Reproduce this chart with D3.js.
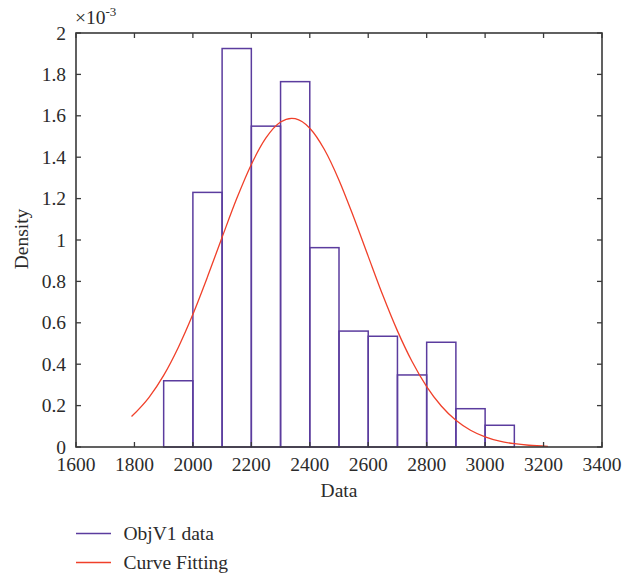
<!DOCTYPE html>
<html>
<head>
<meta charset="utf-8">
<script src="https://cdn.jsdelivr.net/npm/d3@7"></script>
<style>
  body { margin: 0; background: #fff; }
  svg text { font-family: "Liberation Serif", "DejaVu Serif", serif; fill: #2b2b2b; }
</style>
</head>
<body>
<svg id="chart" width="635" height="573"></svg>
<script>
// histogram bins (lower edge) and density values (x 10^-3)
const binStarts = [1900, 2000, 2100, 2200, 2300, 2400, 2500, 2600, 2700, 2800, 2900, 3000];
const density = [0.32, 1.23, 1.925, 1.55, 1.765, 0.963, 0.56, 0.535, 0.348, 0.506, 0.185, 0.105];
const binWidth = 100;

// fitted curve, points
const curveX = [1790, 1850, 1900, 1950, 2000, 2050, 2100, 2150, 2200, 2250, 2300, 2338, 2350, 2400, 2450, 2500, 2550, 2600, 2650, 2700, 2750, 2800, 2850, 2900, 2950, 3000, 3050, 3100, 3150, 3215];
const curveY = [0.147, 0.240, 0.346, 0.481, 0.641, 0.822, 1.013, 1.200, 1.365, 1.493, 1.570, 1.588, 1.586, 1.540, 1.437, 1.289, 1.111, 0.921, 0.733, 0.561, 0.413, 0.292, 0.198, 0.129, 0.081, 0.049, 0.028, 0.016, 0.0085, 0.0035];

const xTicks = [1600, 1800, 2000, 2200, 2400, 2600, 2800, 3000, 3200, 3400];
const yTicks = [0, 0.2, 0.4, 0.6, 0.8, 1, 1.2, 1.4, 1.6, 1.8, 2];

const svg = d3.select("#chart");
const plotL = 76, plotR = 602, plotT = 33, plotB = 447;
const fs = "19.5px";

const x = d3.scaleLinear().domain([1600, 3400]).range([plotL, plotR]);
const y = d3.scaleLinear().domain([0, 2]).range([plotB, plotT]);

const barColor = "#5b3c9e";
const lineColor = "#f0402a";
const axisColor = "#3a3a3a";

// bars
svg.append("g")
  .selectAll("rect")
  .data(binStarts)
  .join("rect")
  .attr("x", d => x(d))
  .attr("y", (d, i) => y(density[i]))
  .attr("width", d => x(d + binWidth) - x(d))
  .attr("height", (d, i) => y(0) - y(density[i]))
  .attr("fill", "none")
  .attr("stroke", barColor)
  .attr("stroke-width", 1.5);

// curve
const pts = curveX.map((v, i) => [v, curveY[i]]);
svg.append("path")
  .datum(pts)
  .attr("fill", "none")
  .attr("stroke", lineColor)
  .attr("stroke-width", 1.3)
  .attr("d", d3.line().x(d => x(d[0])).y(d => y(d[1])).curve(d3.curveMonotoneX));

// box
svg.append("rect")
  .attr("x", plotL).attr("y", plotT)
  .attr("width", plotR - plotL).attr("height", plotB - plotT)
  .attr("fill", "none").attr("stroke", axisColor).attr("stroke-width", 1.6);

// ticks, inward on all four sides
const tickLen = 5;
const tk = svg.append("g").attr("stroke", axisColor).attr("stroke-width", 1.3);
xTicks.forEach(t => {
  tk.append("line").attr("x1", x(t)).attr("x2", x(t)).attr("y1", plotB).attr("y2", plotB - tickLen);
  tk.append("line").attr("x1", x(t)).attr("x2", x(t)).attr("y1", plotT).attr("y2", plotT + tickLen);
});
yTicks.forEach(t => {
  tk.append("line").attr("x1", plotL).attr("x2", plotL + tickLen).attr("y1", y(t)).attr("y2", y(t));
  tk.append("line").attr("x1", plotR).attr("x2", plotR - tickLen).attr("y1", y(t)).attr("y2", y(t));
});

// tick labels
svg.append("g").selectAll("text")
  .data(xTicks).join("text")
  .attr("x", d => x(d)).attr("y", 471)
  .attr("text-anchor", "middle")
  .style("font-size", fs)
  .text(d => d);

svg.append("g").selectAll("text")
  .data(yTicks).join("text")
  .attr("x", 66).attr("y", d => y(d) + 6.5)
  .attr("text-anchor", "end")
  .style("font-size", fs)
  .text(d => d);

// exponent
const ex = svg.append("text").attr("x", 75).attr("y", 24).style("font-size", fs);
ex.append("tspan").text("×10");
ex.append("tspan").attr("dy", -8).style("font-size", "13px").text("-3");

// axis titles
svg.append("text")
  .attr("x", 339).attr("y", 497)
  .attr("text-anchor", "middle")
  .style("font-size", fs)
  .text("Data");

svg.append("text")
  .attr("transform", `translate(28, 239) rotate(-90)`)
  .attr("text-anchor", "middle")
  .style("font-size", fs)
  .text("Density");

// legend
const legend = [
  { label: "ObjV1 data", color: barColor, width: 1.5 },
  { label: "Curve Fitting", color: lineColor, width: 1.3 }
];
const lg = svg.append("g").selectAll("g").data(legend).join("g")
  .attr("transform", (d, i) => `translate(76, ${533.5 + i * 29})`);
lg.append("line").attr("x1", 0).attr("x2", 35).attr("y1", 0).attr("y2", 0)
  .attr("stroke", d => d.color).attr("stroke-width", d => d.width);
lg.append("text").attr("x", 47.5).attr("y", 6.5)
  .style("font-size", fs)
  .text(d => d.label);
</script>
</body>
</html>
